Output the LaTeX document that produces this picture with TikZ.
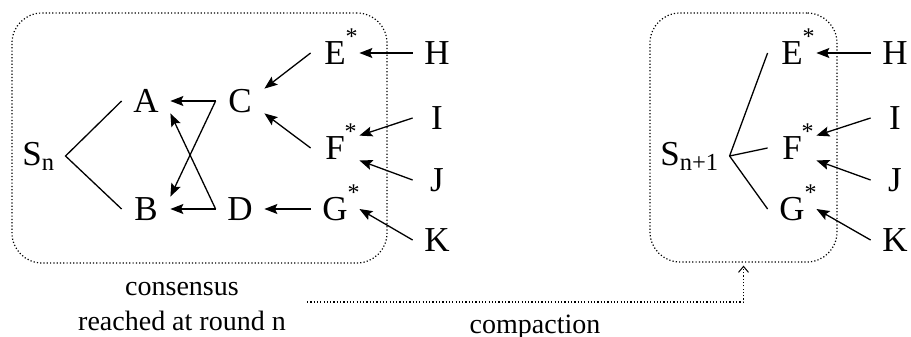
\documentclass[tikz,border=0pt]{standalone}
\usepackage{fontspec}
\setmainfont{Liberation Serif}
\usetikzlibrary{arrows.meta}
\newcommand{\starmark}{\rlap{\raisebox{10pt}{\fontsize{12}{12}\selectfont *}}}
\begin{document}
\begin{tikzpicture}[x=0.5pt,y=-0.5pt,
  letter/.style={font=\fontsize{17.5}{20}\selectfont, inner sep=0pt,
    minimum width=24pt, minimum height=12pt, text height=11.6pt, text depth=0pt},
  root/.style={font=\fontsize{17.5}{20}\selectfont, inner ysep=0pt, inner xsep=5pt,
    anchor=base west},
  caption/.style={font=\fontsize{14}{17.5}\selectfont, inner sep=0pt, align=center},
  link/.style={line width=0.65pt},
  arr/.style={link, -{Stealth[length=6.5pt,width=5pt,inset=1.2pt]}},
  frame/.style={draw, line width=0.6pt, dash pattern=on 0.6pt off 1.05pt,
    rounded corners=15pt, inner sep=0pt},
  dotline/.style={line width=0.6pt, dash pattern=on 0.6pt off 1.05pt,
    -{Straight Barb[length=3pt,width=5pt,line width=0.5pt]}},
]
\useasboundingbox (0,0) rectangle (911,337);

% state S_n
\node[frame, minimum width=187.5pt, minimum height=125pt] (box1) at (199.5,138) {};
\node[root] (Sn) at (12,165) {S\textsubscript{n}};
\node[letter] (A) at (146,101) {A};
\node[letter] (B) at (146,209) {B};
\node[letter] (C) at (240,101) {C};
\node[letter] (D) at (240,209) {D};
\node[letter] (E) at (335,53) {E\starmark};
\node[letter] (F) at (335,148) {F\starmark};
\node[letter] (G) at (335,209) {G\starmark};
\node[letter] (H) at (437,53) {H};
\node[letter] (I) at (437,118) {I};
\node[letter] (J) at (437,180) {J};
\node[letter] (K) at (437,240) {K};

\draw[link] (A.west) -- (Sn.east) -- (B.west);
\draw[arr] (C.west) -- (A.east);
\draw[arr] (C.west) -- (B.north east);
\draw[arr] (D.west) -- (B.east);
\draw[arr] (D.west) -- (A.south east);
\draw[arr] (E.west) -- (C.north east);
\draw[arr] (F.west) -- (C.south east);
\draw[arr] (G.west) -- (D.east);
\draw[arr] (H.west) -- (E.east);
\draw[arr] (I.west) -- (F.north east);
\draw[arr] (J.west) -- (F.south east);
\draw[arr] (K.west) -- (G.east);

% the base anchor of a two-line caption sits on its last line
\node[caption, anchor=base] (cons) at (182,330) {consensus\\reached at round n};

% state S_{n+1}
\node[frame, minimum width=93.5pt, minimum height=124.5pt] (box2) at (743.5,137.5) {};
\node[root] (Sm) at (650,165) {S\textsubscript{n+1}};
\node[letter] (E2) at (792,53) {E\starmark};
\node[letter] (F2) at (792,148) {F\starmark};
\node[letter] (G2) at (792,209) {G\starmark};
\node[letter] (H2) at (895,53) {H};
\node[letter] (I2) at (895,118) {I};
\node[letter] (J2) at (895,180) {J};
\node[letter] (K2) at (895,240) {K};

\draw[link] (Sm.east) -- (E2.west);
\draw[link] (Sm.east) -- (F2.west);
\draw[link] (Sm.east) -- (G2.west);
\draw[arr] (H2.west) -- (E2.east);
\draw[arr] (I2.west) -- (F2.north east);
\draw[arr] (J2.west) -- (F2.south east);
\draw[arr] (K2.west) -- (G2.east);

% compaction step
\coordinate (cstart) at (307,302);
\draw[dotline, shorten >=1.5pt] (cstart) -| (box2.south);
\node[caption, anchor=base] (comp) at (535,333) {compaction};
\end{tikzpicture}
\end{document}
